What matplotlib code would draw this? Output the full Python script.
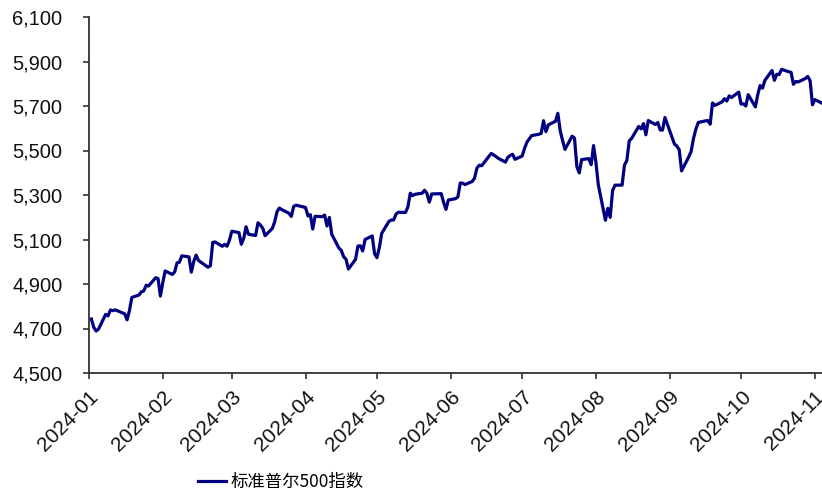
import matplotlib
matplotlib.use("Agg")
import matplotlib.pyplot as plt
import matplotlib.dates as mdates
import matplotlib.ticker as mticker
import pandas as pd

dates = [
 "2024-01-02","2024-01-03","2024-01-04","2024-01-05","2024-01-08","2024-01-09","2024-01-10","2024-01-11","2024-01-12",
 "2024-01-16","2024-01-17","2024-01-18","2024-01-19","2024-01-22","2024-01-23","2024-01-24","2024-01-25","2024-01-26",
 "2024-01-29","2024-01-30","2024-01-31",
 "2024-02-01","2024-02-02","2024-02-05","2024-02-06","2024-02-07","2024-02-08","2024-02-09","2024-02-12","2024-02-13",
 "2024-02-14","2024-02-15","2024-02-16","2024-02-20","2024-02-21","2024-02-22","2024-02-23","2024-02-26","2024-02-27",
 "2024-02-28","2024-02-29",
 "2024-03-01","2024-03-04","2024-03-05","2024-03-06","2024-03-07","2024-03-08","2024-03-11","2024-03-12","2024-03-13",
 "2024-03-14","2024-03-15","2024-03-18","2024-03-19","2024-03-20","2024-03-21","2024-03-22","2024-03-25","2024-03-26",
 "2024-03-27","2024-03-28",
 "2024-04-01","2024-04-02","2024-04-03","2024-04-04","2024-04-05","2024-04-08","2024-04-09","2024-04-10","2024-04-11",
 "2024-04-12","2024-04-15","2024-04-16","2024-04-17","2024-04-18","2024-04-19","2024-04-22","2024-04-23","2024-04-24",
 "2024-04-25","2024-04-26","2024-04-29","2024-04-30",
 "2024-05-01","2024-05-02","2024-05-03","2024-05-06","2024-05-07","2024-05-08","2024-05-09","2024-05-10","2024-05-13",
 "2024-05-14","2024-05-15","2024-05-16","2024-05-17","2024-05-20","2024-05-21","2024-05-22","2024-05-23","2024-05-24",
 "2024-05-28","2024-05-29","2024-05-30","2024-05-31",
 "2024-06-03","2024-06-04","2024-06-05","2024-06-06","2024-06-07","2024-06-10","2024-06-11","2024-06-12","2024-06-13",
 "2024-06-14","2024-06-17","2024-06-18","2024-06-20","2024-06-21","2024-06-24","2024-06-25","2024-06-26","2024-06-27",
 "2024-06-28",
 "2024-07-01","2024-07-02","2024-07-03","2024-07-05","2024-07-08","2024-07-09","2024-07-10","2024-07-11","2024-07-12",
 "2024-07-15","2024-07-16","2024-07-17","2024-07-18","2024-07-19","2024-07-22","2024-07-23","2024-07-24","2024-07-25",
 "2024-07-26","2024-07-29","2024-07-30","2024-07-31",
 "2024-08-01","2024-08-02","2024-08-05","2024-08-06","2024-08-07","2024-08-08","2024-08-09","2024-08-12","2024-08-13",
 "2024-08-14","2024-08-15","2024-08-16","2024-08-19","2024-08-20","2024-08-21","2024-08-22","2024-08-23","2024-08-26",
 "2024-08-27","2024-08-28","2024-08-29","2024-08-30",
 "2024-09-03","2024-09-04","2024-09-05","2024-09-06","2024-09-09","2024-09-10","2024-09-11","2024-09-12","2024-09-13",
 "2024-09-16","2024-09-17","2024-09-18","2024-09-19","2024-09-20","2024-09-23","2024-09-24","2024-09-25","2024-09-26",
 "2024-09-27","2024-09-30",
 "2024-10-01","2024-10-02","2024-10-03","2024-10-04","2024-10-07","2024-10-08","2024-10-09","2024-10-10","2024-10-11",
 "2024-10-14","2024-10-15","2024-10-16","2024-10-17","2024-10-18","2024-10-21","2024-10-22","2024-10-23","2024-10-24",
 "2024-10-25","2024-10-28","2024-10-29","2024-10-30","2024-10-31",
 "2024-11-01","2024-11-04",
]

spx = [
 4742.83,4704.81,4688.68,4697.24,4763.54,4756.50,4783.45,4780.24,4783.83,
 4765.98,4739.21,4780.94,4839.81,4850.43,4864.60,4868.55,4894.16,4890.97,
 4927.93,4924.97,4845.65,
 4906.19,4958.61,4942.81,4954.23,4995.06,4997.91,5026.61,5021.84,4953.17,
 5000.62,5029.73,5005.57,4975.51,4981.80,5087.03,5088.80,5069.53,5078.18,
 5069.76,5096.27,
 5137.08,5130.95,5078.65,5104.76,5157.36,5123.69,5117.94,5175.27,5165.31,
 5150.48,5117.09,5149.42,5178.51,5224.62,5241.53,5234.18,5218.19,5203.58,
 5248.49,5254.35,
 5243.77,5205.81,5211.49,5147.21,5204.34,5202.39,5209.91,5160.64,5199.06,
 5123.41,5061.82,5051.41,5022.21,5011.12,4967.23,5010.60,5070.55,5071.63,
 5048.42,5099.96,5116.17,5035.69,
 5018.39,5064.20,5127.79,5180.74,5187.70,5187.67,5214.08,5222.68,5221.42,
 5246.68,5308.15,5297.10,5303.27,5308.13,5321.41,5307.01,5267.84,5304.72,
 5306.04,5266.95,5235.48,5277.51,
 5283.40,5291.34,5354.03,5352.96,5346.99,5360.79,5375.32,5421.03,5433.74,
 5431.60,5473.23,5487.03,5473.17,5464.62,5447.87,5469.30,5477.90,5482.87,
 5460.48,
 5475.09,5509.01,5537.02,5567.19,5572.85,5576.98,5633.91,5584.54,5615.35,
 5631.22,5667.20,5588.27,5544.59,5505.00,5564.41,5555.74,5427.13,5399.22,
 5459.10,5463.54,5436.44,5522.30,
 5446.68,5346.56,5186.33,5240.03,5199.50,5319.31,5344.16,5344.39,5434.43,
 5455.21,5543.22,5554.25,5608.25,5597.12,5620.85,5570.64,5634.61,5616.84,
 5625.80,5592.18,5591.96,5648.40,
 5528.93,5520.07,5503.41,5408.42,5471.05,5495.52,5554.13,5595.76,5626.02,
 5633.09,5634.58,5618.26,5713.64,5702.55,5718.57,5732.93,5722.26,5745.37,
 5738.17,5762.48,
 5708.75,5709.54,5699.94,5751.07,5695.94,5751.13,5792.04,5780.05,5815.03,
 5859.85,5815.26,5842.47,5841.47,5864.67,5853.98,5851.20,5797.42,5809.86,
 5808.12,5823.52,5832.92,5813.67,5705.45,
 5728.80,5712.69,
]

series_label = "标准普尔500指数"

plt.rcParams['font.family'] = ['Liberation Sans', 'Noto Sans CJK SC', 'DejaVu Sans']

fig = plt.figure(figsize=(8.22, 4.96), dpi=100)
ax = fig.add_axes([89/822, 1-373/496, (822-89)/822, (373-17)/496])

x = pd.to_datetime(dates)
line, = ax.plot(x, spx, color='#000080', lw=2.3, label=series_label)

ax.set_ylim(4500, 6100)
ax.set_yticks(range(4500, 6101, 200))
ax.yaxis.set_major_formatter(mticker.FuncFormatter(lambda v, p: f"{int(v):,}"))
ax.set_xlim(pd.Timestamp("2024-01-01"), pd.Timestamp("2024-11-04"))
ax.xaxis.set_major_locator(mdates.MonthLocator())
ax.xaxis.set_major_formatter(mdates.DateFormatter("%Y-%m"))

for s in ['top', 'right']:
    ax.spines[s].set_visible(False)
for s in ['left', 'bottom']:
    ax.spines[s].set_color('#333333')
    ax.spines[s].set_linewidth(1.3)

ax.tick_params(axis='both', direction='out', length=4.5, width=1.2, color='#333333',
               labelcolor='#111111')
ax.tick_params(axis='y', pad=14.5, labelsize=14.5)
ax.tick_params(axis='x', pad=6, labelsize=15)
for lab in ax.get_xticklabels():
    lab.set_rotation(45)
    lab.set_ha('right')
    lab.set_rotation_mode('anchor')

fig.legend(handles=[line], labels=[series_label], loc='center',
           bbox_to_anchor=(281/822, 1-482/496), frameon=False,
           prop={'family': ['Noto Sans CJK SC', 'DejaVu Sans'], 'size': 12.5},
           handlelength=1.6, handletextpad=0.25)

fig.savefig("out.png", dpi=100)
